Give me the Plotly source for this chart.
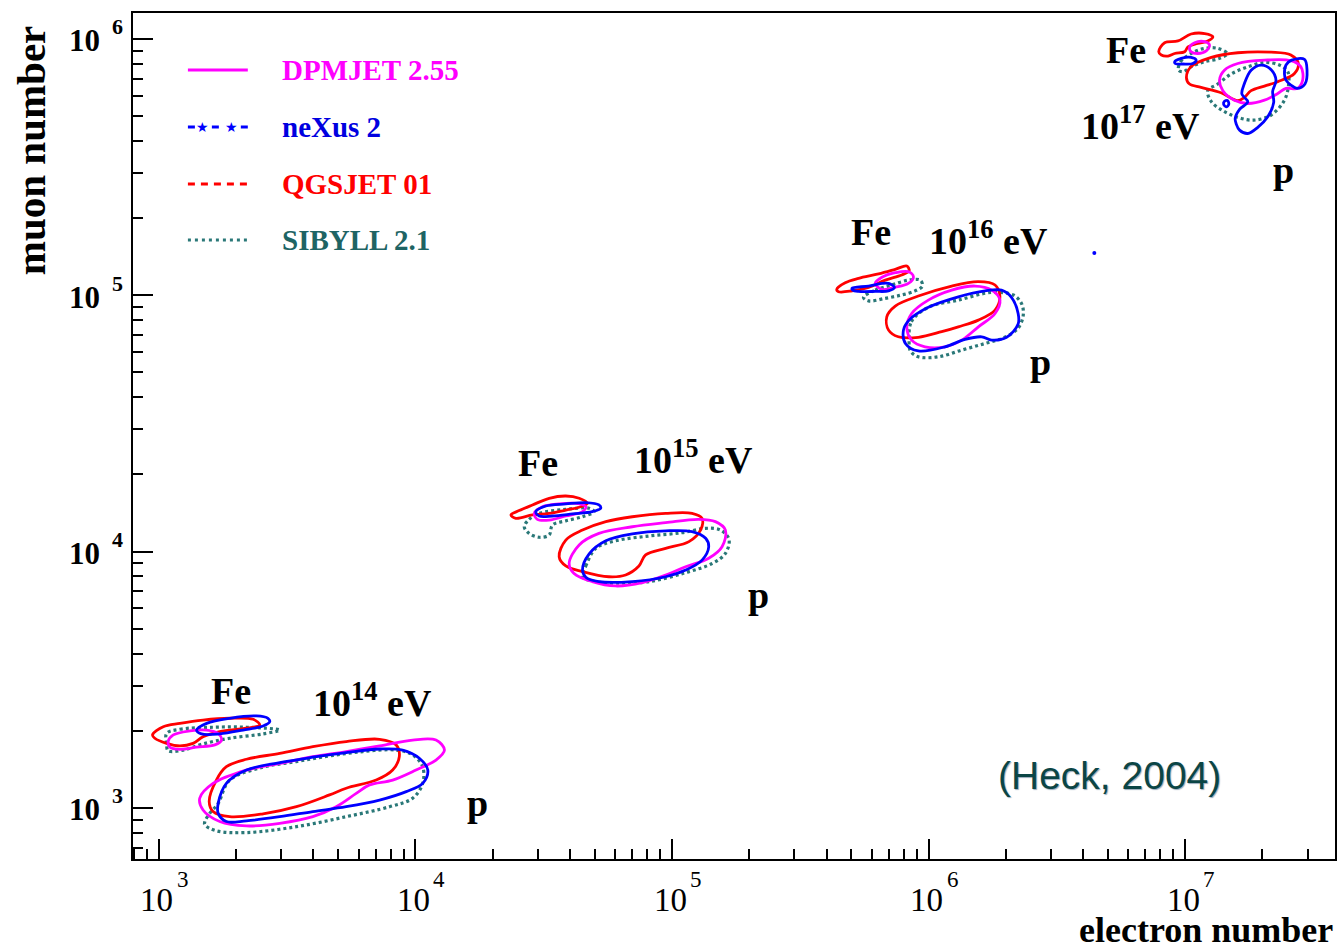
import plotly.graph_objects as go

# ---- data: contour lines as (lg Ne, lg Nmu) pairs ----
# 10^14 eV, iron
dpm_fe14 = [(3.036,3.259),(3.056,3.285),(3.121,3.301),(3.186,3.304),(3.231,3.291),(3.244,3.265),(3.218,3.246),(3.147,3.237),(3.082,3.229),(3.043,3.237)]
nex_fe14 = [(3.147,3.304),(3.186,3.330),(3.276,3.350),(3.380,3.359),(3.425,3.350),(3.432,3.337),(3.406,3.320),(3.328,3.304),(3.237,3.289),(3.166,3.289)]
qgs_fe14 = [(2.975,3.285),(3.017,3.317),(3.082,3.330),(3.172,3.343),(3.276,3.350),(3.367,3.346),(3.393,3.324),(3.341,3.311),(3.237,3.298),(3.172,3.278),(3.133,3.252),(3.082,3.242),(3.030,3.252),(2.984,3.272)]
sib_fe14 = [(3.030,3.291),(3.082,3.307),(3.211,3.315),(3.341,3.315),(3.471,3.304),(3.406,3.289),(3.276,3.272),(3.172,3.250),(3.095,3.226),(3.036,3.223),(3.030,3.250)]
# 10^14 eV, proton
dpm_p14 = [(3.159,3.038),(3.211,3.096),(3.341,3.148),(3.471,3.174),(3.600,3.200),(3.730,3.220),(3.860,3.242),(3.989,3.265),(4.080,3.265),(4.113,3.226),(4.080,3.187),(4.002,3.148),(3.911,3.109),(3.821,3.090),(3.769,3.057),(3.691,3.005),(3.600,2.966),(3.471,2.940),(3.341,2.930),(3.237,2.947),(3.172,2.992)]
nex_p14 = [(3.231,3.018),(3.263,3.096),(3.341,3.148),(3.471,3.177),(3.600,3.198),(3.730,3.216),(3.860,3.230),(3.950,3.226),(4.015,3.194),(4.048,3.148),(4.028,3.096),(3.964,3.064),(3.860,3.031),(3.730,3.005),(3.600,2.986),(3.471,2.966),(3.341,2.950),(3.263,2.947),(3.231,2.979)]
qgs_p14 = [(3.196,3.025),(3.224,3.109),(3.263,3.161),(3.341,3.190),(3.471,3.213),(3.600,3.239),(3.730,3.259),(3.860,3.268),(3.925,3.246),(3.937,3.200),(3.911,3.148),(3.847,3.109),(3.730,3.077),(3.665,3.051),(3.536,3.005),(3.406,2.977),(3.276,2.966),(3.211,2.986)]
sib_p14 = [(3.179,2.947),(3.198,2.979),(3.231,3.018),(3.276,3.109),(3.406,3.159),(3.536,3.181),(3.665,3.203),(3.795,3.220),(3.925,3.226),(3.989,3.207),(4.028,3.161),(4.028,3.096),(3.989,3.038),(3.899,3.005),(3.730,2.966),(3.536,2.927),(3.341,2.904),(3.224,2.911),(3.179,2.934)]
# 10^15 eV, iron
dpm_fe15 = [(4.463,4.149),(4.495,4.175),(4.560,4.186),(4.625,4.188),(4.664,4.175),(4.651,4.156),(4.586,4.139),(4.521,4.123),(4.475,4.126)]
nex_fe15 = [(4.469,4.156),(4.508,4.178),(4.586,4.186),(4.664,4.191),(4.715,4.182),(4.722,4.169),(4.689,4.156),(4.612,4.147),(4.534,4.139),(4.482,4.139)]
qgs_fe15 = [(4.372,4.143),(4.404,4.160),(4.456,4.182),(4.521,4.208),(4.586,4.217),(4.638,4.208),(4.670,4.188),(4.638,4.173),(4.586,4.162),(4.521,4.149),(4.456,4.143),(4.391,4.130)]
sib_fe15 = [(4.424,4.097),(4.443,4.126),(4.482,4.149),(4.586,4.165),(4.677,4.169),(4.696,4.156),(4.651,4.136),(4.586,4.120),(4.534,4.104),(4.521,4.065),(4.482,4.056),(4.443,4.071)]
# 10^15 eV, proton
dpm_p15 = [(4.599,3.954),(4.638,4.026),(4.715,4.071),(4.845,4.097),(4.975,4.113),(5.104,4.126),(5.169,4.117),(5.208,4.084),(5.195,4.019),(5.143,3.974),(5.053,3.941),(4.975,3.909),(4.884,3.879),(4.780,3.866),(4.689,3.883),(4.618,3.915)]
nex_p15 = [(4.651,3.928),(4.677,3.991),(4.742,4.042),(4.845,4.069),(4.975,4.081),(5.078,4.078),(5.131,4.052),(5.143,4.019),(5.117,3.967),(5.053,3.928),(4.975,3.902),(4.845,3.883),(4.715,3.883),(4.664,3.900)]
qgs_p15 = [(4.560,3.980),(4.586,4.045),(4.651,4.084),(4.742,4.117),(4.845,4.136),(4.975,4.149),(5.078,4.149),(5.117,4.130),(5.111,4.084),(5.066,4.039),(4.975,4.013),(4.897,3.987),(4.871,3.944),(4.819,3.909),(4.754,3.902),(4.651,3.922),(4.586,3.944)]
sib_p15 = [(4.651,3.902),(4.664,3.944),(4.703,4.013),(4.780,4.042),(4.910,4.061),(5.040,4.074),(5.131,4.091),(5.189,4.084),(5.222,4.048),(5.208,3.993),(5.157,3.954),(5.053,3.918),(4.910,3.883),(4.780,3.877),(4.703,3.883)]
# 10^16 eV, iron
dpm_fe16 = [(5.792,5.046),(5.818,5.070),(5.870,5.088),(5.921,5.092),(5.941,5.072),(5.921,5.046),(5.870,5.031),(5.818,5.023)]
nex_fe16 = [(5.701,5.027),(5.766,5.036),(5.818,5.046),(5.844,5.046),(5.867,5.031),(5.844,5.017),(5.792,5.015),(5.727,5.015),(5.704,5.020)]
qgs_fe16 = [(5.642,5.023),(5.675,5.049),(5.727,5.066),(5.805,5.083),(5.870,5.101),(5.915,5.114),(5.924,5.095),(5.895,5.079),(5.831,5.059),(5.766,5.031),(5.701,5.017),(5.649,5.014)]
sib_fe16 = [(5.746,4.992),(5.792,5.020),(5.856,5.040),(5.921,5.059),(5.967,5.059),(5.976,5.036),(5.947,5.017),(5.895,5.001),(5.831,4.988),(5.766,4.978)]
# 10^16 eV, proton
dpm_p16 = [(5.915,4.877),(5.934,4.929),(5.999,4.981),(6.090,5.020),(6.181,5.036),(6.246,5.020),(6.278,4.981),(6.259,4.929),(6.194,4.877),(6.129,4.825),(6.064,4.799),(5.986,4.799),(5.934,4.825)]
nex_p16 = [(5.902,4.864),(5.924,4.903),(5.999,4.953),(6.116,4.994),(6.220,5.017),(6.284,5.020),(6.323,4.992),(6.349,4.929),(6.349,4.888),(6.304,4.836),(6.246,4.825),(6.207,4.838),(6.142,4.828),(6.064,4.799),(5.960,4.783),(5.911,4.810)]
qgs_p16 = [(5.837,4.916),(5.870,4.958),(5.960,4.997),(6.090,5.036),(6.194,5.053),(6.259,5.040),(6.278,4.994),(6.259,4.942),(6.194,4.903),(6.116,4.877),(6.051,4.858),(5.960,4.836),(5.882,4.838),(5.844,4.864)]
sib_p16 = [(5.924,4.819),(5.933,4.897),(5.999,4.953),(6.116,4.981),(6.246,5.011),(6.330,5.001),(6.362,4.968),(6.369,4.923),(6.349,4.872),(6.297,4.836),(6.220,4.812),(6.129,4.786),(6.038,4.760),(5.960,4.760),(5.929,4.783)]
# 10^17 eV, iron
dpm_fe17 = [(7.017,5.967),(7.037,5.985),(7.076,5.989),(7.095,5.976),(7.082,5.953),(7.049,5.943),(7.023,5.950)]
nex_fe17 = [(6.959,5.911),(6.985,5.924),(7.023,5.928),(7.043,5.917),(7.030,5.904),(6.991,5.902),(6.961,5.904)]
qgs_fe17 = [(6.897,5.950),(6.920,5.985),(6.972,5.992),(7.023,6.019),(7.076,6.021),(7.108,6.008),(7.088,5.992),(7.049,5.982),(7.011,5.969),(6.998,5.950),(6.959,5.943),(6.933,5.933),(6.907,5.937)]
sib_fe17 = [(6.974,5.878),(6.982,5.911),(7.023,5.943),(7.076,5.963),(7.127,5.963),(7.164,5.943),(7.134,5.924),(7.076,5.911),(7.023,5.891),(6.991,5.872)]
# 10^17 eV, proton
dpm_p17 = [(7.134,5.840),(7.153,5.878),(7.205,5.904),(7.309,5.917),(7.412,5.915),(7.451,5.891),(7.458,5.839),(7.438,5.807),(7.393,5.807),(7.361,5.787),(7.309,5.761),(7.244,5.748),(7.192,5.761),(7.147,5.798)]
nex_p17_a = [(7.195,5.690),(7.212,5.725),(7.244,5.755),(7.221,5.785),(7.231,5.826),(7.257,5.878),(7.296,5.898),(7.335,5.880),(7.354,5.839),(7.341,5.795),(7.345,5.752),(7.322,5.696),(7.283,5.655),(7.244,5.631),(7.212,5.644),(7.199,5.668)]
nex_p17_b = [(7.387,5.863),(7.393,5.898),(7.415,5.917),(7.465,5.920),(7.475,5.878),(7.467,5.824),(7.436,5.807),(7.412,5.820),(7.393,5.839)]
nex_p17_c = [(7.152,5.755),(7.165,5.760),(7.170,5.745),(7.160,5.735),(7.150,5.745)]
qgs_p17 = [(7.005,5.848),(7.022,5.891),(7.102,5.928),(7.205,5.946),(7.335,5.948),(7.412,5.937),(7.441,5.904),(7.426,5.865),(7.361,5.833),(7.309,5.816),(7.257,5.798),(7.231,5.772),(7.205,5.759),(7.140,5.790),(7.062,5.811),(7.017,5.824)]
sib_p17 = [(7.088,5.798),(7.127,5.824),(7.179,5.863),(7.244,5.891),(7.309,5.908),(7.367,5.898),(7.400,5.872),(7.403,5.820),(7.387,5.761),(7.335,5.703),(7.267,5.683),(7.205,5.694),(7.147,5.720),(7.102,5.755)]
# isolated neXus point
nex_dot = [(6.646, 5.165)]

models = ["DPMJET 2.55", "neXus 2", "QGSJET 01", "SIBYLL 2.1"]
x_tick_exp = [3, 4, 5, 6, 7]
y_tick_exp = [3, 4, 5, 6]

contours = {
    "DPMJET 2.55": [dpm_fe14, dpm_p14, dpm_fe15, dpm_p15, dpm_fe16, dpm_p16, dpm_fe17, dpm_p17],
    "neXus 2": [nex_fe14, nex_p14, nex_fe15, nex_p15, nex_fe16, nex_p16, nex_fe17, nex_p17_a, nex_p17_b, nex_p17_c],
    "QGSJET 01": [qgs_fe14, qgs_p14, qgs_fe15, qgs_p15, qgs_fe16, qgs_p16, qgs_fe17, qgs_p17],
    "SIBYLL 2.1": [sib_fe14, sib_p14, sib_fe15, sib_p15, sib_fe16, sib_p16, sib_fe17, sib_p17],
}

colors = {"DPMJET 2.55": "#ff00ff", "neXus 2": "#0000ff", "QGSJET 01": "#ff0000", "SIBYLL 2.1": "#2a7878"}
text_colors = {"DPMJET 2.55": "#ff00ff", "neXus 2": "#0000e0", "QGSJET 01": "#ff0000", "SIBYLL 2.1": "#1e6464"}
order = ["SIBYLL 2.1", "QGSJET 01", "DPMJET 2.55", "neXus 2"]

SERIF = "Liberation Serif, Times New Roman, serif"

fig = go.Figure()
for m in order:
    for pts in contours[m]:
        xs = [10 ** a for a, b in pts] + [10 ** pts[0][0]]
        ys = [10 ** b for a, b in pts] + [10 ** pts[0][1]]
        fig.add_trace(go.Scatter(
            x=xs, y=ys, mode="lines", name=m, showlegend=False, hoverinfo="skip",
            line=dict(color=colors[m], width=3.2 if m == "SIBYLL 2.1" else 2.8,
                      dash="3px,3px" if m == "SIBYLL 2.1" else "solid",
                      shape="spline", smoothing=1.0)))

fig.add_trace(go.Scatter(x=[10 ** a for a, b in nex_dot], y=[10 ** b for a, b in nex_dot],
                         mode="markers", marker=dict(color="#0000ff", size=4),
                         showlegend=False, hoverinfo="skip"))

W, H = 1342, 952
L, R, T, B = 133, 5, 13, 93
pw, ph = W - L - R, H - T - B

def px(x):
    return (x - L) / pw

def py(y):
    return (H - B - y) / ph

def A(**kw):
    d = dict(showarrow=False, xanchor="center", yanchor="middle")
    d.update(kw)
    return d

ann = []
# energy / primary labels (data coordinates in lg)
labels = [
    ("Fe", 3.280, 3.456), ("10<sup>14</sup> eV", 3.833, 3.420), ("p", 4.241, 3.020),
    ("Fe", 4.478, 4.346), ("10<sup>15</sup> eV", 5.082, 4.368), ("p", 5.338, 3.831),
    ("Fe", 5.774, 5.247), ("10<sup>16</sup> eV", 6.234, 5.222), ("p", 6.435, 4.740),
    ("Fe", 6.770, 5.956), ("10<sup>17</sup> eV", 6.825, 5.671), ("p", 7.382, 5.488),
]
for t, lx, ly in labels:
    ann.append(A(text="<b>%s</b>" % t, x=lx, y=ly, xref="x", yref="y",
                 font=dict(family=SERIF, size=38, color="black")))

ann.append(A(text="(Heck, 2004)", x=px(1111), y=py(775), xref="paper", yref="paper",
             font=dict(family="Liberation Sans, Arial, sans-serif", size=39, color="#0b4545",
                       shadow="1px 1px 1px #9ab")))

# axis titles
ann.append(A(text="<b>muon number</b>", x=px(31), y=py(151), xref="paper", yref="paper",
             textangle=-90, font=dict(family=SERIF, size=41, color="black")))
ann.append(A(text="<b>electron number</b>", x=px(1336), y=py(951), xref="paper", yref="paper",
             xanchor="right", yanchor="bottom", borderpad=0,
             font=dict(family=SERIF, size=36, color="black")))

# tick labels
for e in x_tick_exp:
    ann.append(A(text="10", x=e, xshift=-2, y=py(900), xref="x", yref="paper", borderpad=0,
                 font=dict(family=SERIF, size=33, color="black")))
    ann.append(A(text=str(e), x=e, xshift=24, y=py(879), xref="x", yref="paper", borderpad=0,
                 font=dict(family=SERIF, size=23, color="black")))
for e in y_tick_exp:
    ann.append(A(text="<b>10</b>", x=px(84), y=e, yshift=-2, xref="paper", yref="y",
                 font=dict(family=SERIF, size=31, color="black")))
    ann.append(A(text="<b>%d</b>" % e, x=px(117), y=e, yshift=12, xref="paper", yref="y",
                 font=dict(family=SERIF, size=22, color="black")))

# legend (drawn manually)
leg_y = [70, 127, 184, 240]
shapes = []
for m, yy in zip(models, leg_y):
    ann.append(A(text="<b>%s</b>" % m, x=px(280), y=py(yy), xref="paper", yref="paper",
                 xanchor="left", font=dict(family=SERIF, size=29, color=text_colors[m])))
shapes.append(dict(type="line", xref="paper", yref="paper", x0=px(188), x1=px(248), y0=py(70), y1=py(70),
                   line=dict(color=colors["DPMJET 2.55"], width=3)))
for a, b in [(188, 195), (212, 219), (241, 248)]:
    shapes.append(dict(type="line", xref="paper", yref="paper", x0=px(a), x1=px(b), y0=py(127), y1=py(127),
                       line=dict(color=colors["neXus 2"], width=3)))
for sx in [203, 232]:
    ann.append(A(text="★", x=px(sx), y=py(127), xref="paper", yref="paper",
                 font=dict(family="DejaVu Sans", size=14, color=colors["neXus 2"])))
shapes.append(dict(type="line", xref="paper", yref="paper", x0=px(188), x1=px(248), y0=py(184), y1=py(184),
                   line=dict(color=colors["QGSJET 01"], width=3, dash="7px,6px")))
shapes.append(dict(type="line", xref="paper", yref="paper", x0=px(188), x1=px(248), y0=py(240), y1=py(240),
                   line=dict(color=colors["SIBYLL 2.1"], width=3, dash="3px,4px")))

axis_common = dict(type="log", showgrid=False, zeroline=False, showline=True, linecolor="black",
                   linewidth=2, mirror=True, ticks="inside", ticklen=20, tickwidth=2, tickcolor="black",
                   showticklabels=False, dtick=1,
                   minor=dict(ticks="inside", ticklen=10, tickwidth=1.5, tickcolor="black", dtick="D1", showgrid=False))

fig.update_layout(
    width=W, height=H, margin=dict(l=L, r=R, t=T, b=B),
    paper_bgcolor="white", plot_bgcolor="white",
    xaxis=dict(range=[2.899, 7.584], **axis_common),
    yaxis=dict(range=[2.801, 6.101], **axis_common),
    annotations=ann, shapes=shapes, showlegend=False,
)

fig.write_html("out.html")
